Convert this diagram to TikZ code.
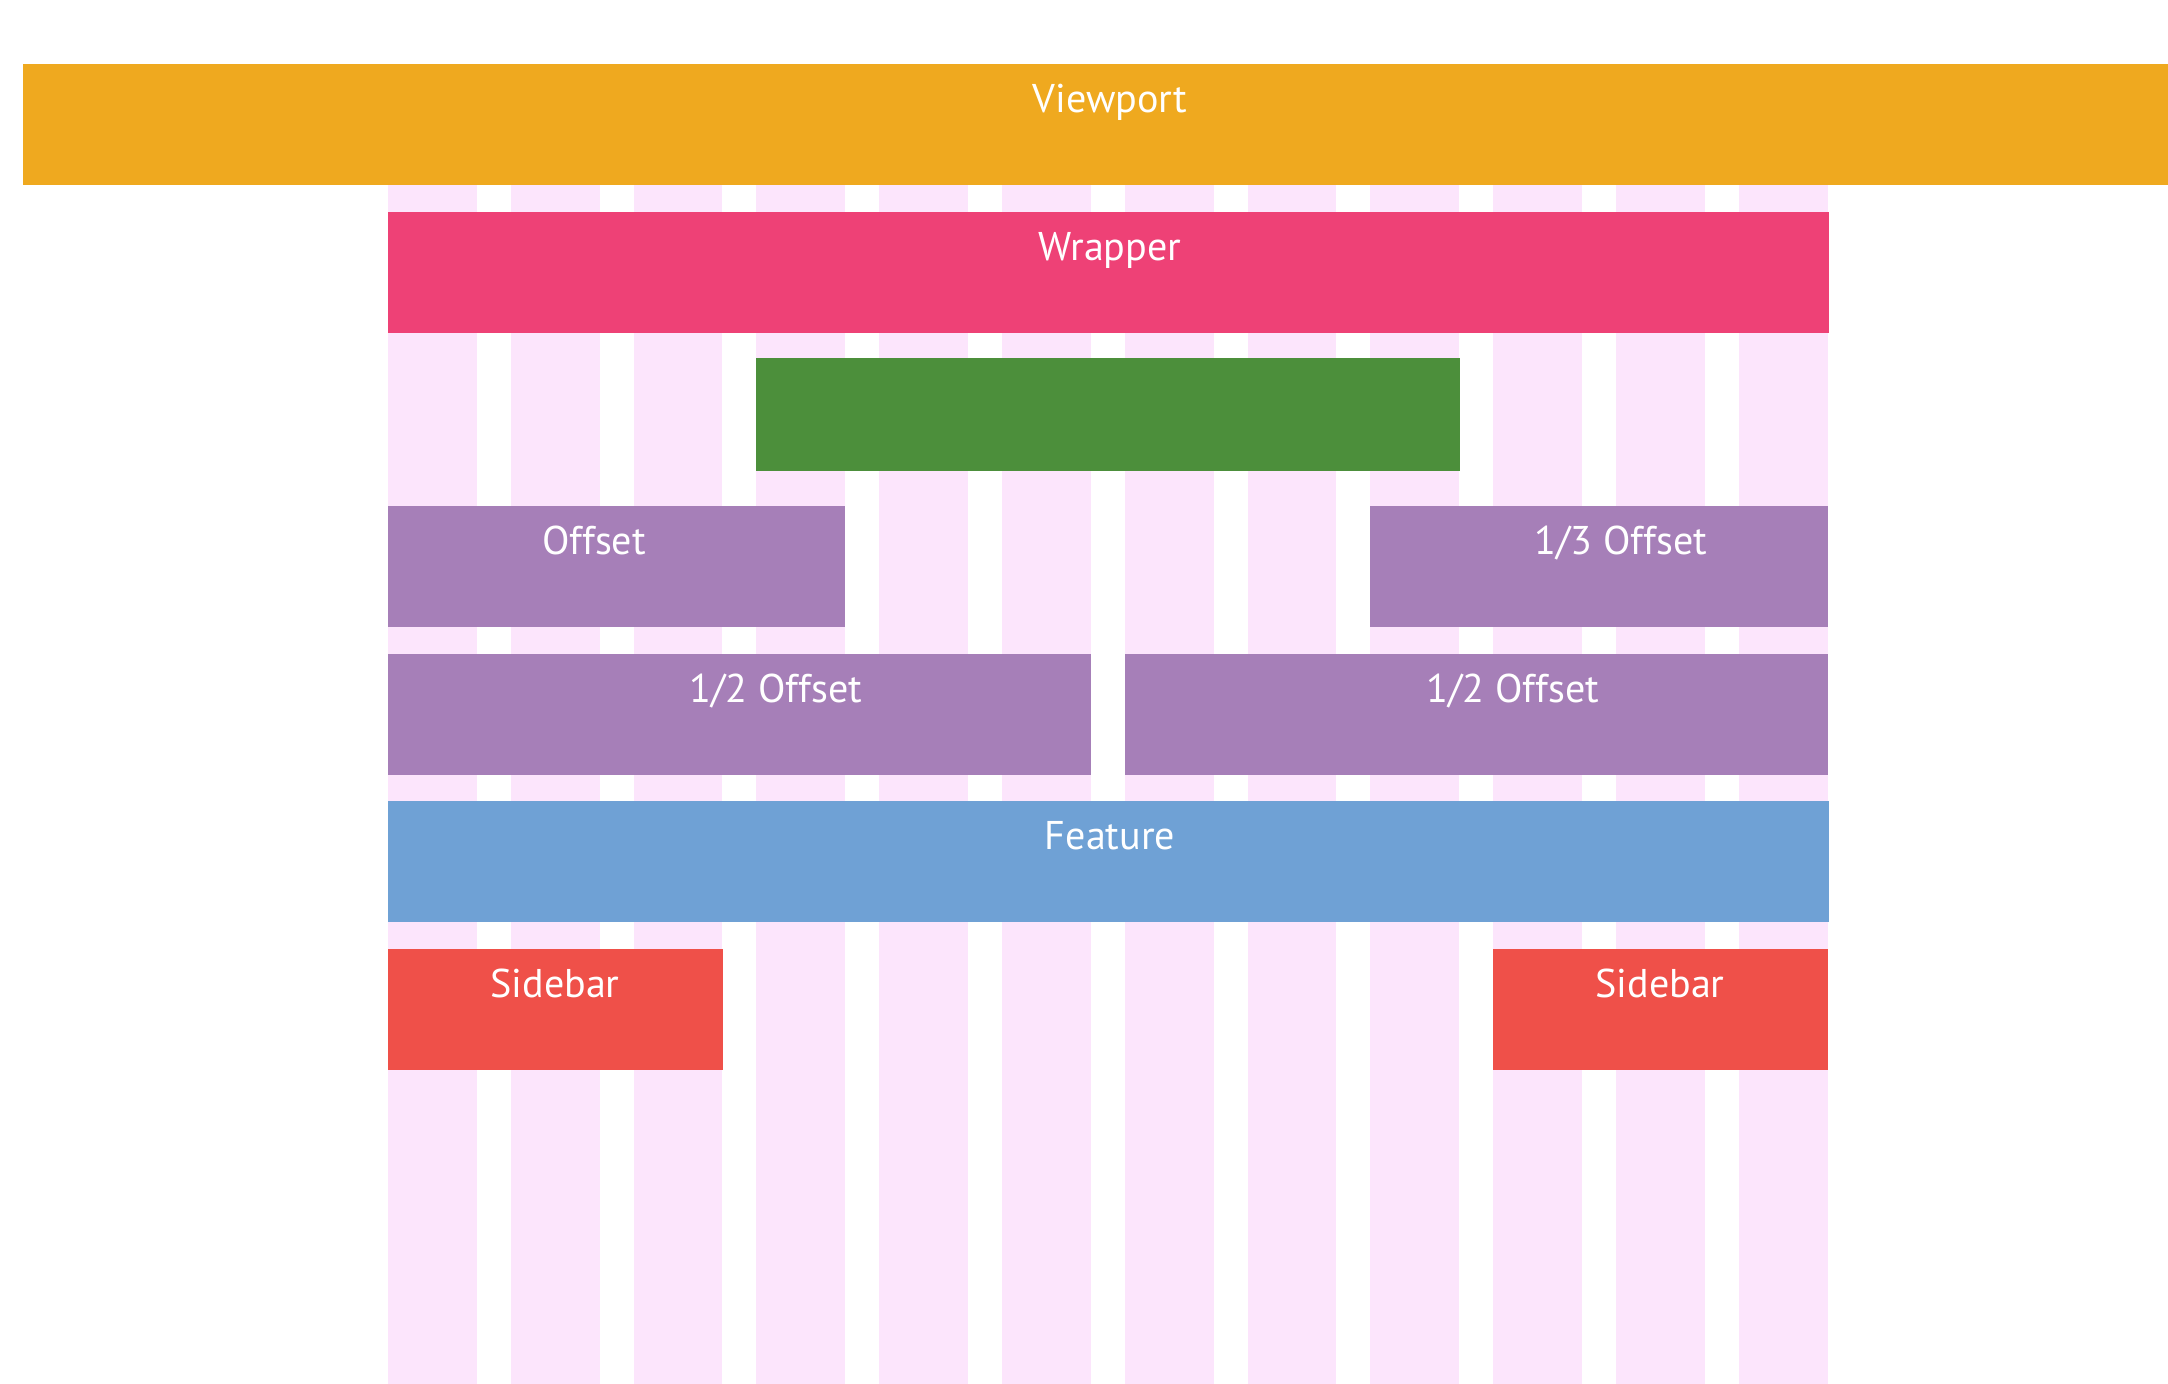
\documentclass[tikz,border=0pt]{standalone}
\usepackage{fontspec}
\setmainfont{PT Sans}
\usepackage{xcolor}
\usetikzlibrary{positioning}

\definecolor{vpcol}{RGB}{239,169,31}
\definecolor{wrapcol}{RGB}{238,65,118}
\definecolor{maincol}{RGB}{76,143,59}
\definecolor{offcol}{RGB}{166,127,184}
\definecolor{featcol}{RGB}{111,161,213}
\definecolor{sidecol}{RGB}{239,80,73}
\definecolor{gridcol}{RGB}{252,229,252}

\tikzset{
  block/.style={rectangle, inner sep=0pt, outer sep=0pt, anchor=north west, minimum height=1.21cm},
  lbl/.style={text=white, anchor=base, inner sep=0pt, font=\fontsize{11.4}{14}\selectfont}
}

\begin{document}
\begin{tikzpicture}[x=0.01cm,y=-0.01cm]
\useasboundingbox (0,0) rectangle (2168,1384);
% twelve grid columns
\foreach \c in {0,...,11}
  \fill[gridcol] (388+\c*122.8,184) rectangle ++(88.8,1200);

\node[block, fill=vpcol, minimum width=21.45cm] (viewport) at (23,63.5) {};
\node[block, fill=wrapcol, minimum width=14.4cm] (wrapper) at (388,211.5) {};
\node[block, fill=maincol, minimum width=7.028cm, minimum height=1.13cm] (content) at (756.4,358.3) {};
\node[block, fill=offcol, minimum width=4.572cm] (offset) at (388,506.3) {};
\node[block, fill=offcol, minimum width=4.572cm] (thirdoff) at (1370.4,506.3) {};
\node[block, fill=offcol, minimum width=7.028cm] (halfoffl) at (388,654.3) {};
\node[block, fill=offcol, minimum width=7.028cm] (halfoffr) at (1124.8,654.3) {};
\node[block, fill=featcol, minimum width=14.4cm] (feature) at (388,801.3) {};
\node[block, fill=sidecol, minimum width=3.344cm] (sidel) at (388,949.3) {};
\node[block, fill=sidecol, minimum width=3.344cm] (sider) at (1493.2,949.3) {};

% labels
\node[lbl] (vplbl) at (1110,112) {Viewport};
\node[lbl] (wraplbl) at (1110,260) {Wrapper};
\node[lbl] (offlbl) at (594,554) {Offset};
\node[lbl] (thirdlbl) at (1621,554) {1/3 Offset};
\node[lbl] (halfllbl) at (776,702) {1/2 Offset};
\node[lbl] (halfrlbl) at (1513,702) {1/2 Offset};
\node[lbl] (featlbl) at (1110,849) {Feature};
\node[lbl] (sidellbl) at (555,997) {Sidebar};
\node[lbl] (siderlbl) at (1660,997) {Sidebar};
\end{tikzpicture}
\end{document}
